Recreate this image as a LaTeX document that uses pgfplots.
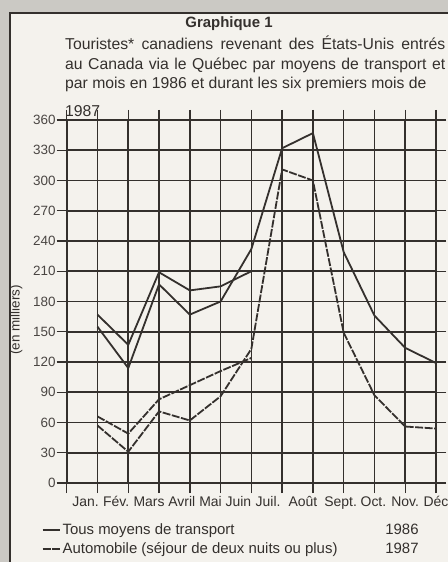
\documentclass[border=0pt]{standalone}
\usepackage{pgfplots}
\pgfplotsset{compat=1.18}
\usepackage{fontspec}
\setmainfont{Liberation Sans}

\definecolor{ink}{HTML}{34302D}
\definecolor{paper}{HTML}{F4F2ED}
\definecolor{scan}{HTML}{CBC9C4}
\definecolor{lbl}{HTML}{4A4643}

% label centred at an offset from its tick
\newcommand\lab[2]{\makebox[0pt][l]{\hspace*{#1}\makebox[0pt]{#2}}}

\begin{document}
\begin{tikzpicture}[x=1bp,y=1bp]
\path[use as bounding box] (0,0) rectangle (448,562);
\fill[scan] (0,0) rectangle (448,562);
\fill[paper] (10,0) rectangle (448,549);
\draw[ink,line width=1.6bp] (10,-5) -- (10,549) -- (455,549);

\node[anchor=base,font=\bfseries\fontsize{15}{18}\selectfont,text=ink] at (229,534) {Graphique 1};
\node[anchor=base west,inner sep=0pt,text width=380bp,align=justify,
      font=\fontsize{15.8}{19.5}\selectfont,text=ink] at (65,512)
  {Touristes* canadiens revenant des États-Unis entrés\linebreak
   au Canada via le Québec par moyens de transport et\linebreak
   par mois en 1986 et durant les six premiers mois de};
\node[anchor=base west,inner sep=0pt,font=\fontsize{15.8}{19.5}\selectfont,text=ink]
  at (65,445) {1987};

\begin{axis}[
  at={(66.7bp,79bp)}, anchor=south west, scale only axis,
  width=369.3bp, height=363bp,
  xmin=0, xmax=12, ymin=0, ymax=360,
  ytick={0,30,...,360},
  xtick={0,1,...,12},
  xticklabels={,\lab{-12bp}{Jan.},\lab{-12bp}{Fév.},\lab{-10bp}{Mars},
    \lab{-8bp}{Avril},\lab{-10bp}{Mai},\lab{-13bp}{Juin},\lab{-14bp}{Juil.},
    \lab{-10bp}{Août},\lab{-3bp}{Sept.},\lab{-1bp}{Oct.},\lab{0bp}{Nov.},\lab{0bp}{Déc}},
  grid=major,
  grid style={ink,line width=1.6bp},
  axis line style={ink,line width=1.6bp},
  tick align=outside, major tick length=10bp,
  tick style={ink,line width=1.4bp},
  /pgf/number format/assume math mode=true,
  yticklabel style={font=\fontsize{13.5}{16}\selectfont,text=lbl,inner xsep=1bp},
  xticklabel style={font=\fontsize{14}{16}\selectfont,text=ink},
  ylabel={(en milliers)},
  ylabel style={at={(axis description cs:-0.137,0.449)},anchor=center,
                font=\fontsize{13.5}{15}\selectfont,text=ink},
  legend style={at={(axis description cs:-0.068,-0.10)},anchor=north west,
                draw=none,fill=none,font=\fontsize{15}{17}\selectfont,text=ink,
                row sep=3bp,inner xsep=0pt},
  legend cell align=left,
  legend image code/.code={\draw[#1] (0bp,0bp) -- (17bp,0bp);},
]
% Tous moyens de transport, 1986
\addplot[ink,line width=1.8bp,line join=round] coordinates {
  (1,155) (2,114) (3,197) (4,167) (5,180) (6,232)
  (7,332) (8,347) (9,229) (10,166) (11,134) (12,119)};
\addlegendentry{\makebox[356bp][l]{Tous moyens de transport\hfill 1986}}
% Automobile, 1986
\addplot[ink,line width=1.8bp,line join=round,dash pattern=on 8bp off 1.5bp] coordinates {
  (1,57) (2,31) (3,71) (4,62) (5,86) (6,133)
  (7,311) (8,300) (9,149) (10,87) (11,56) (12,54)};
\addlegendentry{\makebox[356bp][l]{Automobile (séjour de deux nuits ou plus)\hfill 1987}}
% Tous moyens de transport, 1987
\addplot[ink,line width=1.8bp,line join=round,forget plot] coordinates {
  (1,167) (2,137) (3,209) (4,191) (5,195) (6,210)};
% Automobile, 1987
\addplot[ink,line width=1.8bp,line join=round,dash pattern=on 8bp off 1.5bp,forget plot] coordinates {
  (1,66) (2,49) (3,83) (4,97) (5,111) (6,124)};
\end{axis}
\end{tikzpicture}
\end{document}
